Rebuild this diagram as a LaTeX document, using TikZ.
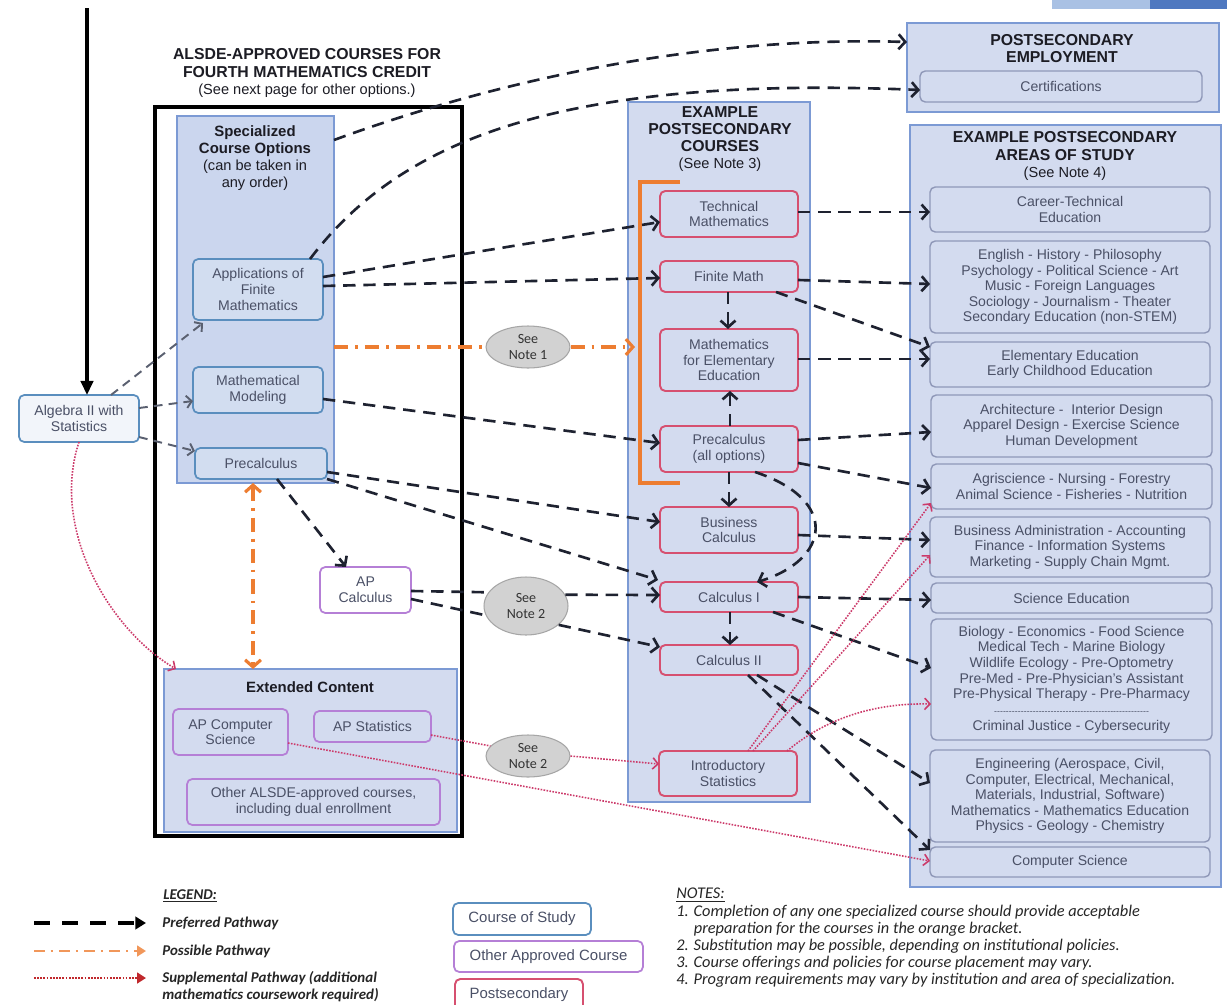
\documentclass[tikz,border=0pt]{standalone}
\usepackage{fontspec}
\setmainfont{Liberation Sans}
\newfontfamily\notefont{Carlito}
\usetikzlibrary{arrows.meta,calc,shapes.geometric}
\definecolor{panelfill}{HTML}{D3DBEF}
\definecolor{specfill}{HTML}{CBD6EE}
\definecolor{panelline}{HTML}{7C9AD4}
\definecolor{cosline}{HTML}{5A8EBE}
\definecolor{cosfill}{HTML}{D2DDF0}
\definecolor{psline}{HTML}{D65070}
\definecolor{oaline}{HTML}{B57FD6}
\definecolor{arealine}{HTML}{8F98B8}
\definecolor{boxtext}{HTML}{4A5066}
\definecolor{titletext}{HTML}{1C1C24}
\definecolor{pathblack}{HTML}{1E2230}
\definecolor{pathgray}{HTML}{5A6070}
\definecolor{orangepath}{HTML}{ED7D31}
\definecolor{redpath}{HTML}{CC3A6A}
\definecolor{legred}{HTML}{C0282C}
\definecolor{ellfill}{HTML}{D2D2D2}
\definecolor{ellline}{HTML}{A6A6A6}
\definecolor{barlight}{HTML}{A9C1E4}
\definecolor{bardark}{HTML}{4E78C0}
\newcommand\bxf{\fontsize{8}{8.9}\selectfont}
\newcommand\ttlf{\fontsize{9}{9.7}\selectfont\bfseries}
\newcommand\subf{\fontsize{8.3}{9.7}\selectfont\mdseries}
\newcommand\sptf{\fontsize{8.5}{9.7}\selectfont\bfseries}
\newcommand\legf{\notefont\fontsize{8.5}{9.6}\selectfont\bfseries\itshape}
% box from corner (x1,y1) to (x2,y2), in pixel units
\newcommand\mkbox[7]{%
  \pgfmathsetmacro\bxw{(#5-#3)*0.02}%
  \pgfmathsetmacro\bxh{(#6-#4)*0.02}%
  \node[#2, minimum width=\bxw cm, minimum height=\bxh cm] (#1) at ({(#3+#5)/2},{(#4+#6)/2}) {#7};}
\tikzset{
  fitbox/.style={inner sep=0pt, outer sep=0pt, align=center},
  panel/.style={fitbox, draw=panelline, fill=panelfill, line width=0.9pt},
  specpanel/.style={panel, fill=specfill},
  cosbox/.style={fitbox, font=\bxf, text=boxtext, draw=cosline, fill=cosfill, line width=1pt, rounded corners=3pt},
  psbox/.style={fitbox, font=\bxf, text=boxtext, draw=psline, fill=panelfill, line width=1.1pt, rounded corners=3pt},
  oabox/.style={fitbox, font=\bxf, text=boxtext, draw=oaline, fill=panelfill, line width=1pt, rounded corners=3pt},
  areabox/.style={fitbox, font=\bxf, text=boxtext, draw=arealine, fill=panelfill, line width=0.8pt, rounded corners=3pt},
  ttl/.style={align=center, font=\ttlf, text=titletext, inner sep=0pt},
  noteell/.style={ellipse, draw=ellline, fill=ellfill, line width=0.6pt, minimum width=1.68cm, minimum height=0.84cm, inner sep=0pt, align=center, font=\notefont\fontsize{8}{8.6}\selectfont, text=black!80},
  pref/.style={draw=pathblack, line width=1.5pt, dash pattern=on 7pt off 4.5pt},
  prefa/.style={pref, -{Straight Barb[length=3.8pt,width=8.5pt]}},
  alga/.style={draw=pathgray, line width=1.1pt, dash pattern=on 5pt off 3.5pt, -{Straight Barb[length=3pt,width=7pt]}},
  poss/.style={draw=orangepath, line width=1.8pt, dash pattern=on 8pt off 4pt on 1.6pt off 4pt},
  supp/.style={draw=redpath, line width=0.9pt, dash pattern=on 0.9pt off 0.8pt},
  suppa/.style={supp, -{Straight Barb[length=3pt,width=6.5pt]}},
  legtxt/.style={anchor=west, inner sep=0pt, font=\legf, text=black!85, align=left},
}
\begin{document}
\begin{tikzpicture}[x=0.02cm, y=-0.02cm]
\useasboundingbox (0,0) rectangle (1227,1004);
\fill[white] (0,0) rectangle (1227,1004);
% slide decoration
\fill[barlight] (1052,0) rectangle (1227,9);
\fill[bardark] (1150,0) rectangle (1227,9);

% ---------- panels ----------
\mkbox{spec}{specpanel}{177}{116}{334}{483}{}
\mkbox{ext}{panel}{164}{669}{457}{832}{}
\mkbox{psc}{panel}{628}{102}{810}{802}{}
\mkbox{emp}{panel}{907}{23}{1219}{112}{}
\mkbox{areas}{panel}{910}{125}{1221}{887}{}
\draw[black, line width=1.8pt] (155,107) rectangle (462,836);

% ---------- titles ----------
\node[ttl] (alsde) at (307,73) {ALSDE-APPROVED COURSES FOR\\FOURTH MATHEMATICS CREDIT\\{\subf (See next page for other options.)}};
\node[ttl, font=\sptf] (spect) at (255,158) {Specialized\\Course Options\\{\subf (can be taken in}\\{\subf any order)}};
\node[ttl, font=\sptf] (extt) at (310,687) {Extended Content};
\node[ttl] (psct) at (720,139) {EXAMPLE\\POSTSECONDARY\\COURSES\\{\subf (See Note 3)}};
\node[ttl] (empt) at (1062,49) {POSTSECONDARY\\EMPLOYMENT};
\node[ttl] (areast) at (1065,156) {EXAMPLE POSTSECONDARY\\AREAS OF STUDY\\{\subf (See Note 4)}};

% ---------- course boxes ----------
\mkbox{alg}{cosbox, fill=white!70!cosfill}{19}{395}{139}{442}{Algebra II with\\Statistics}
\mkbox{apps}{cosbox}{193}{259}{323}{320}{Applications of\\Finite\\Mathematics}
\mkbox{model}{cosbox}{193}{367}{323}{413}{Mathematical\\Modeling}
\mkbox{prec}{cosbox}{195}{448}{327}{479}{Precalculus}
\mkbox{apcalc}{oabox, fill=white}{320}{567}{411}{613}{AP\\Calculus}
\mkbox{apcs}{oabox}{173}{709}{288}{755}{AP Computer\\Science}
\mkbox{apstat}{oabox}{314}{711}{431}{742}{AP Statistics}
\mkbox{other}{oabox}{187}{779}{440}{825}{Other ALSDE-approved courses,\\including dual enrollment}

% ---------- postsecondary courses ----------
\mkbox{tech}{psbox}{660}{191}{798}{237}{Technical\\Mathematics}
\mkbox{finite}{psbox}{660}{261}{798}{292}{Finite Math}
\mkbox{mathelem}{psbox}{660}{329}{798}{391}{Mathematics\\for Elementary\\Education}
\mkbox{precall}{psbox}{660}{426}{798}{472}{Precalculus\\(all options)}
\mkbox{bizcalc}{psbox}{660}{507}{798}{553}{Business\\Calculus}
\mkbox{calc1}{psbox}{660}{582}{798}{612}{Calculus I}
\mkbox{calc2}{psbox}{660}{645}{798}{675}{Calculus II}
\mkbox{intro}{psbox}{659}{751}{797}{796}{Introductory\\Statistics}
\draw[orangepath, line width=2.2pt] (680,182) -| (640,483) -- (680,483);
\coordinate (brk) at (635,347);

% ---------- employment / areas ----------
\mkbox{cert}{areabox}{920}{71}{1202}{102}{Certifications}
\mkbox{career}{areabox}{930}{187}{1210}{232}{Career-Technical\\Education}
\mkbox{english}{areabox}{930}{241}{1210}{333}{English - History - Philosophy\\Psychology - Political Science - Art\\Music - Foreign Languages\\Sociology - Journalism - Theater\\Secondary Education (non-STEM)}
\mkbox{elemed}{areabox}{930}{342}{1210}{387}{Elementary Education\\Early Childhood Education}
\mkbox{arch}{areabox}{931}{395}{1212}{457}{Architecture -\ \ Interior Design\\Apparel Design - Exercise Science\\Human Development}
\mkbox{agri}{areabox}{931}{464}{1212}{509}{Agriscience - Nursing - Forestry\\Animal Science - Fisheries - Nutrition}
\mkbox{bizadm}{areabox}{930}{517}{1210}{577}{Business Administration - Accounting\\Finance - Information Systems\\Marketing - Supply Chain Mgmt.}
\mkbox{scied}{areabox}{931}{583}{1212}{613}{Science Education}
\mkbox{bio}{areabox}{931}{619}{1212}{740}{Biology - Economics - Food Science\\Medical Tech - Marine Biology\\Wildlife Ecology - Pre-Optometry\\Pre-Med - Pre-Physician's Assistant\\Pre-Physical Therapy - Pre-Pharmacy\\\makebox[3.1cm]{\xleaders\hbox{\fontsize{5}{5}\selectfont -}\hfill}\\Criminal Justice - Cybersecurity}
\mkbox{eng}{areabox}{930}{750}{1210}{842}{Engineering (Aerospace, Civil,\\Computer, Electrical, Mechanical,\\Materials, Industrial, Software)\\Mathematics - Mathematics Education\\Physics - Geology - Chemistry}
\mkbox{cs}{areabox}{930}{847}{1210}{877}{Computer Science}

% ---------- note ellipses ----------
\node[noteell] (note1) at (528,347) {See\\Note 1};
\node[noteell, minimum height=1.16cm] (note2a) at (526,606) {See\\Note 2};
\node[noteell] (note2b) at (528,756) {See\\Note 2};

% ---------- top arrow ----------
\coordinate (top) at (87,8);
\draw[black, line width=1.8pt, -{Triangle[length=8pt,width=7pt]}] (top) -- (top |- alg.north);

% ---------- algebra connectors ----------
\draw[alga] (alg.north -| 111,0) -- ($(apps.south west)+(10,3)$);
\draw[alga] (alg.east |- 0,408) -- (model.west |- 0,401);
\draw[alga] (alg.east |- 0,437) -- (prec.west |- 0,451);
\draw[suppa] (alg.south) .. controls (50,530) and (110,630) .. ($(ext.north west)+(12,0)$);

% ---------- preferred pathways ----------
\draw[prefa] (spec.east |- 0,140) .. controls (470,90) and (680,35) .. (emp.west |- 0,42);
\draw[prefa] (apps.north -| 310,0) .. controls (400,140) and (560,75) .. (cert.west |- 0,90);
\draw[prefa] (apps.east |- 0,277) -- (tech.west |- 0,222);
\draw[prefa] (apps.east |- 0,286) -- (finite.west |- 0,278);
\draw[prefa] (model.east |- 0,399) -- (precall.west |- 0,443);
\draw[prefa] (prec.east |- 0,472) -- (bizcalc.west |- 0,522);
\draw[prefa] (prec.south east) -- ($(calc1.north west)+(-2,-2)$);
\draw[prefa] (prec.south -| 277,0) -- (apcalc.north -| 346,0);
\draw[pref] (apcalc.east |- 0,591) -- (note2a.160);
\draw[pref] (apcalc.east |- 0,599) -- (note2a.193);
\draw[prefa] (note2a.16) -- (calc1.west |- 0,595);
\draw[prefa] (note2a.-30) -- (calc2.west |- 0,647);
\draw[prefa] (finite.south -| 728,0) -- (mathelem.north -| 728,0);
\draw[prefa] (precall.north -| 730,0) -- (mathelem.south -| 730,0);
\draw[prefa] (precall.south -| 729,0) -- (bizcalc.north -| 729,0);
\draw[prefa] (precall.south -| 755,0) .. controls (840,500) and (830,560) .. (calc1.north -| 757,0);
\draw[prefa] (calc1.south -| 730,0) -- (calc2.north -| 730,0);
\draw[prefa] (tech.east |- 0,212) -- (career.west |- 0,212);
\draw[prefa] (finite.east |- 0,280) -- (english.west |- 0,284);
\draw[prefa] (finite.south -| 776,0) -- (elemed.west |- 0,347);
\draw[prefa] (mathelem.east |- 0,359) -- (elemed.west |- 0,359);
\draw[prefa] (precall.east |- 0,440) -- (arch.west |- 0,432);
\draw[prefa] (precall.east |- 0,463) -- (agri.west |- 0,488);
\draw[prefa] (bizcalc.east |- 0,535) -- (bizadm.west |- 0,540);
\draw[prefa] (calc1.east |- 0,597) -- (scied.west |- 0,600);
\draw[prefa] (calc1.south -| 773,0) -- (bio.west |- 0,668);
\draw[prefa] (calc2.south -| 748,0) -- (cs.west |- 0,850);
\draw[prefa] (calc2.south -| 757,0) -- (eng.west |- 0,783);

% ---------- possible pathways ----------
\draw[poss] (spec.east |- 0,347) -- (note1.west);
\draw[poss, -{Straight Barb[length=4pt,width=9pt]}] (note1.east) -- (brk);
\draw[poss, {Straight Barb[length=4pt,width=9pt]}-{Straight Barb[length=4pt,width=9pt]}] (spec.south -| 253,0) -- (ext.north -| 253,0);

% ---------- supplemental pathways ----------
\draw[supp] (apstat.east |- 0,735) -- (note2b.165);
\draw[suppa] (note2b.east) -- (intro.west |- 0,764);
\draw[suppa] (apcs.east |- 0,743) -- (cs.west |- 0,861);
\draw[suppa] (intro.north -| 748,0) -- (agri.west |- 0,503);
\draw[suppa] (intro.north -| 753,0) -- (bizadm.west |- 0,555);
\draw[suppa] (intro.north -| 787,0) .. controls (830,715) and (880,703) .. (bio.west |- 0,704);

% ---------- legend ----------
\node[legtxt] (legh) at (163,896) {\underline{LEGEND:}};
\coordinate (l1a) at (34,923); \coordinate (l1b) at (146,923);
\coordinate (l2a) at (34,951); \coordinate (l2b) at (146,951);
\coordinate (l3a) at (34,978); \coordinate (l3b) at (146,978);
\draw[black, line width=2.4pt, dash pattern=on 9pt off 7pt, -{Triangle[length=6pt,width=7pt]}] (l1a) -- (l1b);
\draw[orangepath!80!white, line width=1.4pt, dash pattern=on 6pt off 3.5pt on 1.3pt off 3.5pt, -{Triangle[length=5pt,width=6pt]}] (l2a) -- (l2b);
\draw[legred, line width=1.3pt, dash pattern=on 1pt off 0.8pt, -{Triangle[length=5pt,width=6pt]}] (l3a) -- (l3b);
\node[legtxt] (lt1) at (162,923) {Preferred Pathway};
\node[legtxt] (lt2) at (162,951) {Possible Pathway};
\node[legtxt, anchor=north west] (lt3) at (162,971) {Supplemental Pathway (additional\\mathematics coursework required)};
\mkbox{lgcos}{cosbox, fill=white, font=\fontsize{8.5}{9}\selectfont}{453}{903}{591}{935}{Course of Study}
\mkbox{lgoa}{oabox, fill=white, font=\fontsize{8.5}{9}\selectfont}{454}{941}{643}{972}{Other Approved Course}
\mkbox{lgps}{psbox, fill=white, font=\fontsize{8.5}{9}\selectfont}{455}{979}{583}{1011}{Postsecondary}

% ---------- notes ----------
\node[legtxt, anchor=north west, font=\notefont\fontsize{9.3}{9.75}\selectfont\itshape] (notes) at (676,888) {\underline{NOTES:}\\
1. Completion of any one specialized course should provide acceptable\\
\hspace*{10pt}preparation for the courses in the orange bracket.\\
2. Substitution may be possible, depending on institutional policies.\\
3. Course offerings and policies for course placement may vary.\\
4. Program requirements may vary by institution and area of specialization.};
\end{tikzpicture}
\end{document}
